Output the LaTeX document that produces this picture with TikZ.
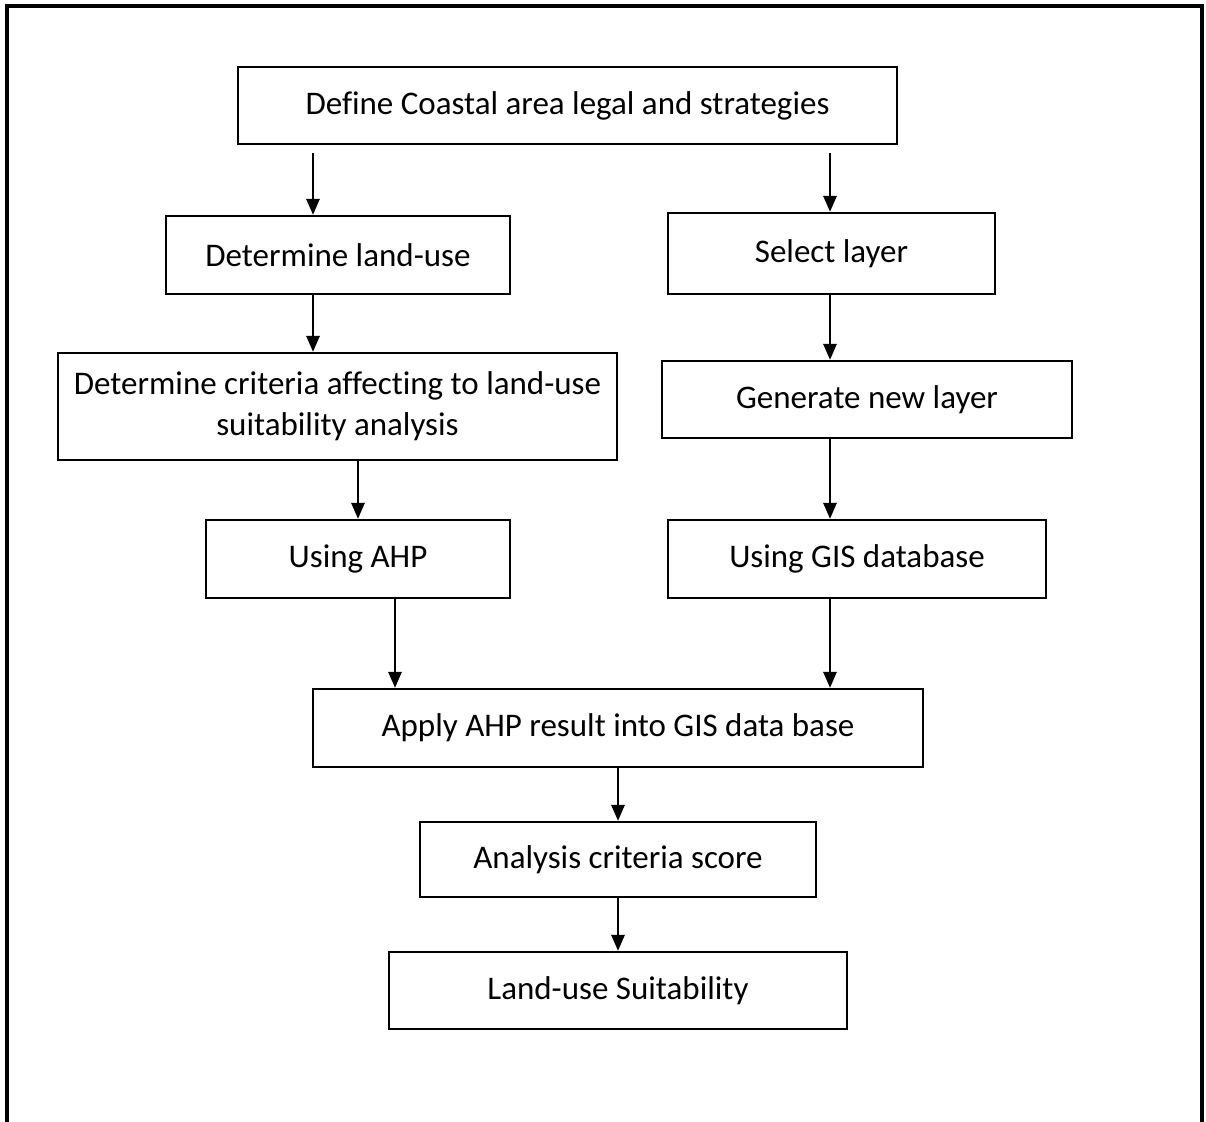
\documentclass[tikz,border=0pt]{standalone}
\usepackage{fontspec}
\setmainfont{Carlito}[Ligatures=NoCommon]
\usetikzlibrary{arrows.meta,calc}
\begin{document}
\begin{tikzpicture}[x=1pt,y=-1pt,
  box/.style={draw=black,line width=2.2pt,inner sep=0pt,align=center,
    font=\fontsize{33}{41}\selectfont},
  arr/.style={line width=2.8pt,-{Triangle[width=13pt,length=16pt]}},
  frame/.style={line width=4pt}]
\useasboundingbox (0,0) rectangle (1206,1121);
\draw[frame] (6.5,1125) -- (6.5,6.5) -- (1201.5,6.5) -- (1201.5,1125);
\node[box,minimum width=659pt,minimum height=77pt] (n1) at (567.5,105.5) {Define Coastal area legal and strategies};
\node[box,minimum width=344pt,minimum height=78pt] (n2) at (338,255) {Determine land-use};
\node[box,minimum width=327pt,minimum height=81pt] (n3) at (831.5,253.5) {Select layer};
\node[box,minimum width=559pt,minimum height=107pt] (n4) at (337.5,406.5) {Determine criteria affecting to land-use\\suitability analysis};
\node[box,minimum width=410pt,minimum height=77pt] (n5) at (867,399.5) {Generate new layer};
\node[box,minimum width=304pt,minimum height=78pt] (n6) at (358,559) {Using AHP};
\node[box,minimum width=378pt,minimum height=78pt] (n7) at (857,559) {Using GIS database};
\node[box,minimum width=610pt,minimum height=78pt] (n8) at (618,728) {Apply AHP result into GIS data base};
\node[box,minimum width=396pt,minimum height=75pt] (n9) at (618,859.5) {Analysis criteria score};
\node[box,minimum width=458pt,minimum height=77pt] (n10) at (618,990.5) {Land-use Suitability};
\coordinate (xa) at (313,0);
\coordinate (xb) at (830,0);
\coordinate (xc) at (358,0);
\coordinate (xd) at (395,0);
\coordinate (xe) at (618,0);
\coordinate (s1) at (313,153);
\coordinate (s2) at (830,153);
\draw[arr] (s1) -- (n2.north -| xa);
\draw[arr] (s2) -- (n3.north -| xb);
\draw[arr] (n2.south -| xa) -- (n4.north -| xa);
\draw[arr] (n3.south -| xb) -- (n5.north -| xb);
\draw[arr] (n4.south -| xc) -- (n6.north -| xc);
\draw[arr] (n5.south -| xb) -- (n7.north -| xb);
\draw[arr] (n6.south -| xd) -- (n8.north -| xd);
\draw[arr] (n7.south -| xb) -- (n8.north -| xb);
\draw[arr] (n8.south -| xe) -- (n9.north -| xe);
\draw[arr] (n9.south -| xe) -- (n10.north -| xe);
\end{tikzpicture}
\end{document}
